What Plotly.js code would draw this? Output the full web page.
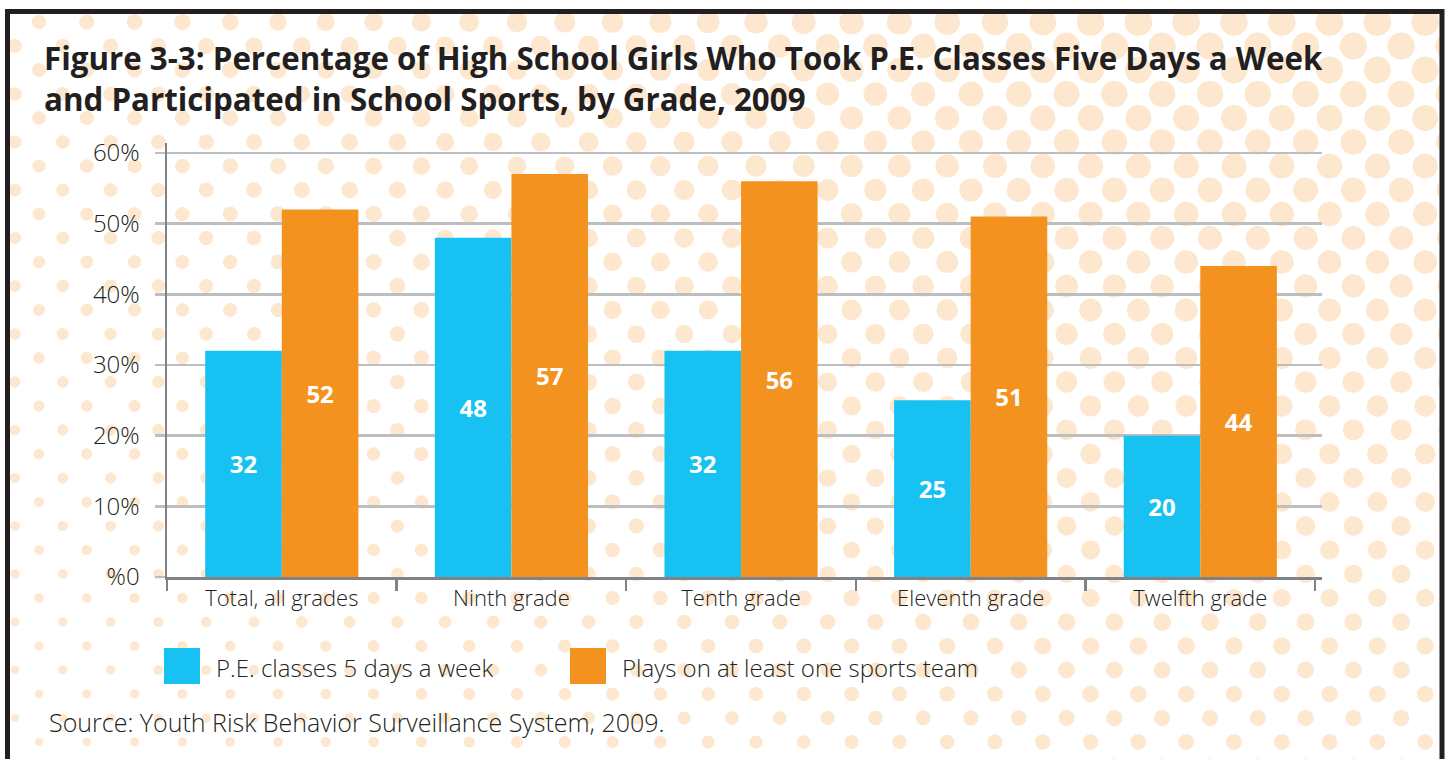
<!DOCTYPE html>
<html><head><meta charset="utf-8">
<script src="https://cdn.plot.ly/plotly-3.0.1.min.js"></script>
<style>html,body{margin:0;padding:0;background:#fff;overflow:hidden;} #chart{width:1450px;height:759px;}</style>
</head><body><div id="chart"></div>
<script>
// ---- data ----
const categories = ["Total, all grades", "Ninth grade", "Tenth grade", "Eleventh grade", "Twelfth grade"];
const peValues = [32, 48, 32, 25, 20];
const sportsValues = [52, 57, 56, 51, 44];
const seriesNames = ["P.E. classes 5 days a week", "Plays on at least one sports team"];
const yTickVals = [0, 10, 20, 30, 40, 50, 60];
const yTickText = ["%0", "10%", "20%", "30%", "40%", "50%", "60%"];
const titleText = "Figure 3-3: Percentage of High School Girls Who Took P.E. Classes Five Days a Week<br>and Participated in School Sports, by Grade, 2009";
const sourceText = "Source: Youth Risk Behavior Surveillance System, 2009.";

// ---- styles ----
const C = {pe: "#17c1f1", sports: "#f4921f", text: "#231f20", grid: "#bcbec0", axis: "#808285", dot: "#fde7cf"};
const FONT = "'Open Sans', Lato, sans-serif";

const FW = 1450, FH = 759, L = 167, R = 1322, T = 143, B = 577;
const pw = R - L, ph = B - T;
const px = x => (x - L) / pw;
const py = y => (B - y) / ph;

// ---- decorative dotted background (one path of bezier circles) ----
function dotPath() {
  const k = 0.5523;
  let s = "";
  const f = v => v.toFixed(5);
  for (let row = 0; row < 32; row++) {
    const cy = 22 + 24 * row;
    const x0 = row % 2 === 0 ? 39 : 15;
    for (let i = -1; i < 32; i++) {
      const cx = x0 + 47.8 * i;
      if (cx < 0 || cx > 1460) continue;
      const r = (7 + 7 * Math.min(1, cx / 1100)) * (1 - 0.45 * cy / FH);
      const P = (x, y) => f(px(x)) + "," + f(py(y));
      const kr = k * r;
      s += "M" + P(cx + r, cy) +
        "C" + P(cx + r, cy + kr) + " " + P(cx + kr, cy + r) + " " + P(cx, cy + r) +
        "C" + P(cx - kr, cy + r) + " " + P(cx - r, cy + kr) + " " + P(cx - r, cy) +
        "C" + P(cx - r, cy - kr) + " " + P(cx - kr, cy - r) + " " + P(cx, cy - r) +
        "C" + P(cx + kr, cy - r) + " " + P(cx + r, cy - kr) + " " + P(cx + r, cy) + "Z";
    }
  }
  return s;
}

const shapes = [
  {type: "path", xref: "paper", yref: "paper", layer: "below", path: dotPath(), fillcolor: C.dot, line: {width: 0}},
  // mask outside border
  {type: "rect", xref: "paper", yref: "paper", layer: "below", x0: px(-5), x1: px(FW + 5), y0: py(-5), y1: py(10), fillcolor: "#fff", line: {width: 0}},
  {type: "rect", xref: "paper", yref: "paper", layer: "below", x0: px(-5), x1: px(6), y0: py(-5), y1: py(FH + 5), fillcolor: "#fff", line: {width: 0}},
  {type: "rect", xref: "paper", yref: "paper", layer: "below", x0: px(1444), x1: px(FW + 5), y0: py(-5), y1: py(FH + 5), fillcolor: "#fff", line: {width: 0}},
  // border
  {type: "rect", xref: "paper", yref: "paper", layer: "above", x0: px(7.5), x1: px(1442), y0: py(11.5), y1: py(FH + 20), line: {color: C.text, width: 5}, fillcolor: "rgba(0,0,0,0)"},
  // legend swatches
  {type: "rect", xref: "paper", yref: "paper", x0: px(164), x1: px(200), y0: py(648), y1: py(684), fillcolor: C.pe, line: {width: 0}},
  {type: "rect", xref: "paper", yref: "paper", x0: px(570), x1: px(606), y0: py(648), y1: py(684), fillcolor: C.sports, line: {width: 0}}
];

const lightFont = (size) => ({family: FONT, size: size, color: C.text, weight: 300});
const annotations = [
  {xref: "paper", yref: "paper", x: px(214), y: py(667), xanchor: "left", yanchor: "middle", showarrow: false,
   text: seriesNames[0], font: lightFont(24)},
  {xref: "paper", yref: "paper", x: px(620), y: py(667), xanchor: "left", yanchor: "middle", showarrow: false,
   text: seriesNames[1], font: lightFont(24)},
  {xref: "paper", yref: "paper", x: px(47), y: py(722), xanchor: "left", yanchor: "middle", showarrow: false,
   text: sourceText, font: lightFont(25)}
];

const labelFont = {family: FONT, size: 24, color: "#ffffff", weight: 700};
const traces = [
  {type: "bar", name: seriesNames[0], x: categories, y: peValues, marker: {color: C.pe},
   text: peValues.map(String), textposition: "inside", insidetextanchor: "middle", textangle: 0,
   constraintext: "none", textfont: labelFont, hoverinfo: "skip"},
  {type: "bar", name: seriesNames[1], x: categories, y: sportsValues, marker: {color: C.sports},
   text: sportsValues.map(String), textposition: "inside", insidetextanchor: "middle", textangle: 0,
   constraintext: "none", textfont: labelFont, hoverinfo: "skip"}
];

const layout = {
  width: FW, height: FH,
  margin: {l: L, r: FW - R, t: T, b: FH - B, pad: 0},
  paper_bgcolor: "#ffffff", plot_bgcolor: "rgba(0,0,0,0)",
  showlegend: false,
  barmode: "group", bargap: 0.333, bargroupgap: 0,
  title: {text: titleText, xref: "container", yref: "container", x: 44 / FW, xanchor: "left",
          y: 1 - 70 / FH, yanchor: "top", font: {family: FONT, size: 31.3, color: C.text, weight: 700}},
  xaxis: {type: "category", range: [-0.5, 4.53], tickson: "boundaries", ticks: "outside", ticklen: 11,
          tickwidth: 2.5, tickcolor: C.axis, showline: true, linecolor: C.axis, linewidth: 3,
          showgrid: false, zeroline: false, fixedrange: true,
          tickfont: lightFont(22)},
  yaxis: {range: [0, 61.4], tickvals: yTickVals, ticktext: yTickText, ticks: "outside", ticklen: 10,
          tickwidth: 2.5, tickcolor: C.grid, showline: true, linecolor: C.axis, linewidth: 2.5,
          showgrid: true, gridcolor: C.grid, gridwidth: 2.5, zeroline: false, fixedrange: true,
          ticklabelstandoff: 10,
          tickfont: lightFont(24)},
  shapes: shapes,
  annotations: annotations
};

Plotly.newPlot("chart", traces, layout, {displayModeBar: false, staticPlot: true});
</script>
</body></html>
